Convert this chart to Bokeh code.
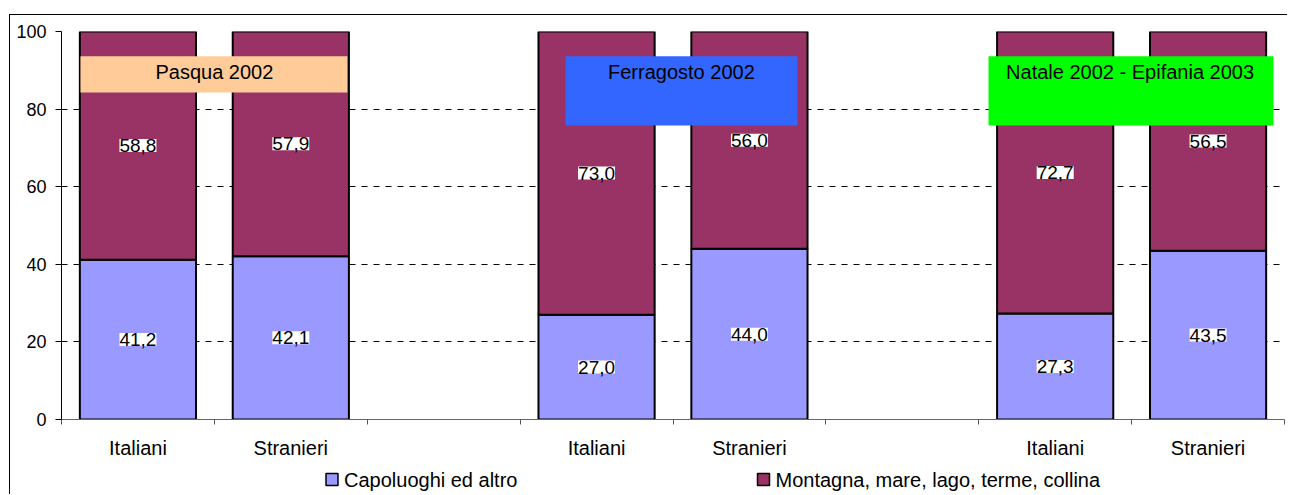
from bokeh.plotting import figure
from bokeh.layouts import column
from bokeh.models import (ColumnDataSource, FixedTicker, Range1d,
                          LabelSet, BoxAnnotation, Label)
from bokeh.core.properties import value
from bokeh.embed import file_html
from bokeh.resources import INLINE

# ---- data ----
periods = ["Pasqua 2002", "Ferragosto 2002", "Natale 2002 - Epifania 2003"]
groups = ["Italiani", "Stranieri"]
capoluoghi = [41.2, 42.1, 27.0, 44.0, 27.3, 43.5]
montagna = [58.8, 57.9, 73.0, 56.0, 72.7, 56.5]
series_names = ["Capoluoghi ed altro", "Montagna, mare, lago, terme, collina"]
y_ticks = [0, 20, 40, 60, 80, 100]

# ---- styling / layout (not data) ----
col_cap = "#9999FF"
col_mont = "#993366"
series_colors = [col_cap, col_mont]
period_colors = ["#FFCC99", "#3366FF", "#00FF00"]
# annotation text boxes: (left, right, bottom, top) offsets inside each period block
period_boxes = [(0.124 - 0.5, 1.87 - 0.5, 84.3, 93.6),
                (0.297 - 0.5, 1.814 - 0.5, 75.8, 93.6),
                (0.064 - 0.5, 1.928 - 0.5, 75.8, 93.6)]
period_text_x = [0.5, 0.555, 0.49]
FRAME_W = 1223
legend_glyph_px = [270.5, 702]    # legend square centres (px from frame left)
FONT = "Liberation Sans"
W = 1278

slots = 3
x = [pi * slots + gi for pi in range(len(periods)) for gi in range(len(groups))]
fmt = lambda v: f"{v:.1f}".replace(".", ",")

src = ColumnDataSource(dict(
    x=x,
    cap=capoluoghi,
    total=[a + b for a, b in zip(capoluoghi, montagna)],
    cap_mid=[a / 2 for a in capoluoghi],
    mont_mid=[a + b / 2 for a, b in zip(capoluoghi, montagna)],
    cap_lbl=[fmt(v) for v in capoluoghi],
    mont_lbl=[fmt(v) for v in montagna],
))

n_slots = len(periods) * slots - 1
p = figure(width=W, height=467 - 15,
           x_range=Range1d(-0.5, n_slots - 0.5), y_range=Range1d(0, 100),
           output_backend="svg", toolbar_location=None,
           min_border_left=51, min_border_right=4, min_border_top=16, min_border_bottom=48)
p.margin = (14, 0, 0, 9)
p.styles = {"border-left": "1px solid #000", "border-top": "1px solid #000"}
p.outline_line_color = None
p.background_fill_color = "white"

r_cap = p.vbar(x="x", width=0.76, bottom=0, top="cap", source=src,
               fill_color=col_cap, line_color="black", line_width=2)
r_mont = p.vbar(x="x", width=0.76, bottom="cap", top="total", source=src,
                fill_color=col_mont, line_color="black", line_width=2)

# value labels
for ycol, tcol in (("cap_mid", "cap_lbl"), ("mont_mid", "mont_lbl")):
    p.add_layout(LabelSet(x="x", y=ycol, text=tcol, source=src,
                          text_align="center", text_baseline="middle",
                          text_font=value(FONT), text_font_size=value("19px"),
                          text_color="black",
                          background_fill_color="white"))

# period annotation boxes
for i, name in enumerate(periods):
    l, r, b, t = period_boxes[i]
    base = i * slots
    p.add_layout(BoxAnnotation(left=base + l, right=base + r, bottom=b, top=t,
                               fill_color=period_colors[i], fill_alpha=1,
                               line_color=None, level="annotation"))
    p.add_layout(Label(x=base + period_text_x[i], y=89.6, text=name,
                       text_align="center", text_baseline="middle",
                       text_font=FONT, text_font_size="20px", text_color="black"))

# axes
xa = p.xaxis[0]
xa.ticker = FixedTicker(ticks=x, minor_ticks=[v - 0.5 for v in range(n_slots + 1)])
xa.major_label_overrides = {xi: groups[k % len(groups)] for k, xi in enumerate(x)}
xa.major_tick_out = 0
xa.major_tick_in = 0
xa.minor_tick_out = 5
xa.minor_tick_in = 0
xa.minor_tick_line_color = "#555555"
xa.axis_line_color = "#666666"
xa.major_label_standoff = 12
xa.major_label_text_font = FONT
xa.major_label_text_font_size = "20px"
xa.major_label_text_color = "black"

ya = p.yaxis[0]
ya.ticker = FixedTicker(ticks=y_ticks)
ya.major_tick_out = 6
ya.major_tick_in = 0
ya.minor_tick_line_color = None
ya.axis_line_color = "black"
ya.major_tick_line_color = "black"
ya.major_label_standoff = 9
ya.major_label_text_font = FONT
ya.major_label_text_font_size = "18px"
ya.major_label_text_color = "black"

p.xgrid.grid_line_color = None
p.ygrid.ticker = FixedTicker(ticks=y_ticks[1:])
p.ygrid.grid_line_color = "black"
p.ygrid.grid_line_dash = "6 6"
p.ygrid.grid_line_width = 1

# ---- legend strip (separate pixel-mapped figure, frame aligned with main frame) ----
LH = 28
lg = figure(width=W, height=LH, x_range=Range1d(0, FRAME_W), y_range=Range1d(0, LH),
            output_backend="svg", toolbar_location=None,
            x_axis_location=None, y_axis_location=None,
            min_border=0, min_border_left=0, min_border_right=0,
            min_border_top=0, min_border_bottom=0)
lg.margin = (0, 0, 0, 9)
lg.styles = {"border-left": "1px solid #000"}
lg.outline_line_color = None
lg.grid.visible = False
lsrc = ColumnDataSource(dict(
    gx=legend_glyph_px,
    tx=[g + 12 for g in legend_glyph_px],
    y=[LH - 13] * len(series_names),
    color=series_colors,
    label=series_names,
))
lg.scatter(x="gx", y="y", marker="square", size=12, fill_color="color",
           line_color="black", line_width=1.5, source=lsrc)
lg.text(x="tx", y="y", text="label", source=lsrc, text_baseline="middle",
        text_align="left", text_font=value(FONT), text_font_size=value("20px"),
        text_color="black")

layout = column(p, lg, spacing=0)
open("out.html", "w").write(file_html(layout, INLINE))
